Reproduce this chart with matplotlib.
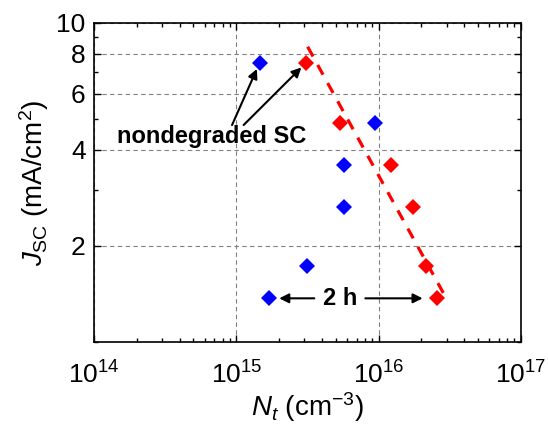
import numpy as np
import matplotlib
matplotlib.use('Agg')
import matplotlib.pyplot as plt

plt.rcParams['font.family'] = ['Liberation Sans', 'DejaVu Sans']
plt.rcParams['mathtext.fontset'] = 'custom'
plt.rcParams['mathtext.rm'] = 'Liberation Sans'
plt.rcParams['mathtext.it'] = 'Liberation Sans:italic'
plt.rcParams['mathtext.bf'] = 'Liberation Sans:bold'

# Jsc levels shared by both sets of cells
jsc = [7.5, 4.86, 3.58, 2.65, 1.73, 1.37]
# trap density, first estimate (blue) and second estimate (red)
nt_blue = [1.46e15, 9.5e15, 5.74e15, 5.74e15, 3.14e15, 1.71e15]
nt_red = [3.1e15, 5.32e15, 1.22e16, 1.73e16, 2.15e16, 2.55e16]

# power-law fit through the red points
fit_nt = [3.17e15, 3.03e16]
fit_jsc = [8.41, 1.354]

y_major = [2, 4, 6, 8, 10]
y_minor = [1, 3, 5, 7, 9]

fig = plt.figure(figsize=(5.48, 4.30), dpi=100)
ax = fig.add_axes([0.1715, 0.2047, 0.9507 - 0.1715, 0.9472 - 0.2047])

ax.set_xscale('log')
ax.set_yscale('log')
ax.set_xlim(1e14, 1e17)
ax.set_ylim(1, 10)

ax.grid(True, which='major', color='#808080', lw=0.8, ls=(0, (4, 3)))
ax.set_axisbelow(True)

ax.plot(fit_nt, fit_jsc, color='red', lw=2.3, ls=(0, (3.5, 3)), zorder=2)
ax.plot(nt_blue, jsc, 'D', color='blue', ms=8, mew=0, zorder=3)
ax.plot(nt_red, jsc, 'D', color='red', ms=8, mew=0, zorder=3)

ax.set_yticks(y_major, [str(v) for v in y_major])
ax.set_yticks(y_minor, [], minor=True)

ax.tick_params(which='both', direction='in', top=True, right=True, labelsize=19)
ax.tick_params(which='major', length=5, width=1)
ax.tick_params(which='minor', length=3, width=1)
ax.tick_params(axis='x', pad=14)
ax.tick_params(axis='y', pad=6)
for s in ax.spines.values():
    s.set_linewidth(1.2)

ax.set_xlabel(r'$N_t$ (cm$^{-3}$)', fontsize=20, labelpad=1)
ax.set_ylabel(r'$J_{\mathrm{SC}}$ (mA/cm$^{2}$)', fontsize=20, labelpad=4)

# labels for the untreated cells
ax.text(6.67e14, 4.19, 'nondegraded SC', fontsize=17, fontweight='bold',
        ha='center', va='baseline')
arrow = dict(arrowstyle='-|>', color='k', lw=1.5, mutation_scale=14, shrinkA=0)
ax.annotate('', xy=(nt_blue[0], jsc[0]), xytext=(9.33e14, 4.78),
            arrowprops=dict(arrow, shrinkB=5))
ax.annotate('', xy=(nt_red[0], jsc[0]), xytext=(1.125e15, 4.78),
            arrowprops=dict(arrow, shrinkB=5))

# labels for the 2 h degraded cell
ax.text(5.38e15, jsc[-1], '2 h', fontsize=17, fontweight='bold',
        ha='center', va='center')
ax.annotate('', xy=(nt_blue[-1], jsc[-1]), xytext=(3.53e15, jsc[-1]),
            arrowprops=dict(arrow, shrinkB=7))
ax.annotate('', xy=(nt_red[-1], jsc[-1]), xytext=(8.06e15, jsc[-1]),
            arrowprops=dict(arrow, shrinkB=10))

fig.savefig('out.png', dpi=100)
